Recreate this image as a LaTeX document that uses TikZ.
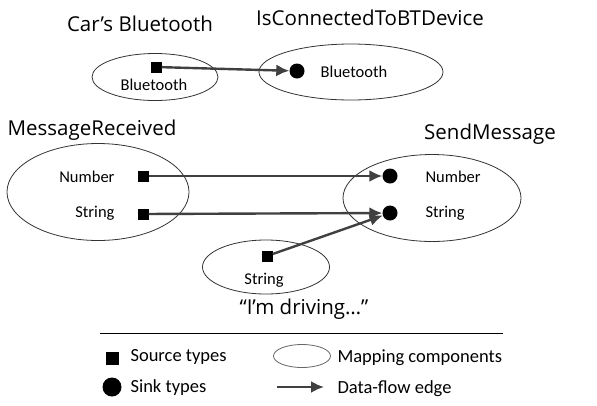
\documentclass[tikz,border=0pt]{standalone}
\usepackage{fontspec}
\setmainfont{Carlito}
\newfontfamily\headfont{Open Sans}
\usetikzlibrary{arrows.meta,shapes.geometric}

\tikzset{
	comp/.style={ellipse, draw=black!80, line width=0.8pt, inner sep=0pt},
	src/.style={rectangle, fill=black, minimum size=11pt, inner sep=0pt},
	snk/.style={circle, fill=black, minimum size=15pt, inner sep=0pt},
	flow/.style={draw=black!75, line width=2.4pt, -{Latex[length=13pt,width=12pt]}},
	head/.style={font=\headfont\fontsize{20.5}{23}\selectfont},
	lbl/.style={font=\fontsize{16.5}{18}\selectfont},
	leg/.style={font=\fontsize{18.5}{20}\selectfont, anchor=west}
}

\begin{document}
\begin{tikzpicture}[x=1pt, y=-1pt]
			%%%%% START %%%%%
			\useasboundingbox (0, 0) rectangle (597, 405);
			
			% titles
			\node[head] (tCar) at (140, 24) {Car’s Bluetooth};
			\node[head] (tDev) at (370, 18) {IsConnectedToBTDevice};
			\node[head] (tRecv) at (92, 130) {MessageReceived};
			\node[head] (tSend) at (490, 134) {SendMessage};
			\node[head] (tQuote) at (304, 309) {“I’m driving…”};
			
			% mapping components
			\node[comp, minimum width=126pt, minimum height=47pt] (cmpCar) at (155, 77) {};
			\node[comp, minimum width=184pt, minimum height=56pt] (cmpDev) at (351, 72) {};
			\node[comp, minimum width=182pt, minimum height=97pt] (cmpRecv) at (98, 192) {};
			\node[comp, minimum width=178pt, minimum height=87pt] (cmpSend) at (432, 198) {};
			\node[comp, minimum width=127pt, minimum height=54pt] (cmpQuote) at (266, 267) {};
			
			% sources
			\node[src] (srcCar) at (156, 67) {};
			\node[src] (srcNum) at (143, 176) {};
			\node[src] (srcStr) at (143, 214) {};
			\node[src] (srcQuote) at (267, 256) {};
			
			% sinks
			\node[snk] (snkDev) at (297, 71) {};
			\node[snk] (snkNum) at (390, 176) {};
			\node[snk] (snkStr) at (390, 213) {};
			
			% labels
			\node[lbl] (lCar) at (154, 85) {Bluetooth};
			\node[lbl] (lDev) at (354, 72) {Bluetooth};
			\node[lbl, anchor=east] (lRecvNum) at (118, 177) {Number};
			\node[lbl, anchor=east] (lRecvStr) at (118, 213) {String};
			\node[lbl, anchor=west] (lSendNum) at (422, 177) {Number};
			\node[lbl, anchor=west] (lSendStr) at (422, 213) {String};
			\node[lbl] (lQuote) at (264, 280) {String};
			
			% data-flow edges
			\draw[flow] (srcCar) -- (snkDev);
			\draw[flow] (srcNum) -- (snkNum);
			\draw[flow] (srcStr) -- (snkStr);
			\draw[flow] (srcQuote) -- (snkStr);
			
			% legend
			\draw[line width=1pt] (100, 333) -- (503, 333);
			\node[src, minimum size=13pt] (legSrc) at (112, 358) {};
			\node[snk, minimum size=19pt] (legSnk) at (112, 387) {};
			\node[comp, draw=black!60, minimum width=57pt, minimum height=23pt] (legComp) at (302, 356) {};
			\coordinate (legA) at (277, 387);
			\coordinate (legB) at (324, 387);
			\draw[flow] (legA) -- (legB);
			\node[leg] (tSrc) at (127, 357) {Source types};
			\node[leg] (tSnk) at (127, 388) {Sink types};
			\node[leg] (tComp) at (334, 358) {Mapping components};
			\node[leg] (tFlow) at (334, 389) {Data-flow edge};
			
			%%%%% END %%%%%
		\end{tikzpicture}
\end{document}
